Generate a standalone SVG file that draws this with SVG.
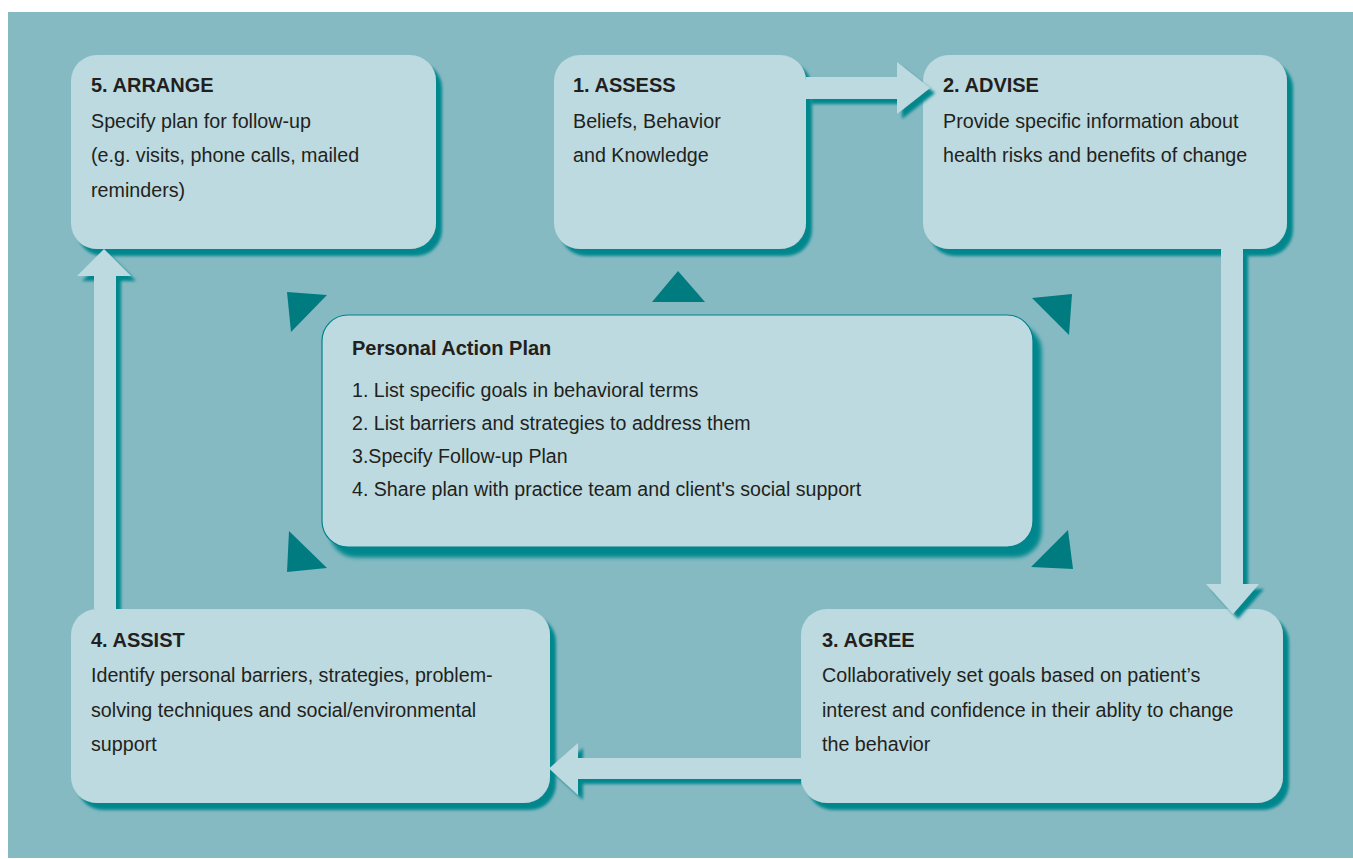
<svg xmlns="http://www.w3.org/2000/svg" width="1353" height="859" viewBox="0 0 1353 859">
  <defs>
    <style>
      .panel { fill: #86BAC3; }
      .box { fill: #BCDADF; }
      .plan { fill: #BCDADF; stroke: #00808A; stroke-width: 1.2; }
      .arrow { fill: #BCDADF; }
      .tri { fill: #007B80; }
      text { font-family: "Liberation Sans", Arial, sans-serif; fill: #231F20; }
      .title { font-size: 20px; font-weight: bold; }
      .body { font-size: 19.7px; }
      .list { font-size: 19.6px; }
    </style>
    <filter id="boxShadow" x="-10%" y="-10%" width="125%" height="130%">
      <feDropShadow dx="6" dy="7" stdDeviation="1.4" flood-color="#00878D" flood-opacity="1"/>
    </filter>
    <filter id="planShadow" x="-10%" y="-10%" width="125%" height="130%">
      <feDropShadow dx="8" dy="10" stdDeviation="2.2" flood-color="#00878D" flood-opacity="1"/>
    </filter>
    <filter id="arrowShadow" x="-20%" y="-20%" width="150%" height="150%">
      <feDropShadow dx="5" dy="5" stdDeviation="1.4" flood-color="#00878D" flood-opacity="1"/>
    </filter>
    <clipPath id="clipLeftOfAgree">
      <rect x="0" y="0" width="801" height="859"/>
    </clipPath>
    <clipPath id="clipAboveAssist">
      <rect x="0" y="0" width="1353" height="609"/>
    </clipPath>
  </defs>

  <!-- backdrop panel -->
  <rect class="panel" x="8" y="12" width="1345" height="846"/>

  <!-- central plan with its corner markers -->
  <g id="plan">
    <polygon class="tri" points="287,292 327,295 291,332"/>
    <polygon class="tri" points="678,271 705,302 652,302"/>
    <polygon class="tri" points="1032,298 1072,294 1069,335"/>
    <polygon class="tri" points="289,531 327,568 287,572"/>
    <polygon class="tri" points="1068,530 1073,569 1031,567"/>
    <rect class="plan" x="322" y="315" width="711" height="232" rx="26" ry="26" filter="url(#planShadow)"/>
    <text class="title" x="352" y="355">Personal Action Plan</text>
    <text class="list" x="352" y="397">1. List specific goals in behavioral terms</text>
    <text class="list" x="352" y="430">2. List barriers and strategies to address them</text>
    <text class="list" x="352" y="463">3.Specify Follow-up Plan</text>
    <text class="list" x="352" y="496">4. Share plan with practice team and client's social support</text>
  </g>

  <g id="arrange">
    <rect class="box" x="71" y="55" width="365" height="194" rx="26" ry="26" filter="url(#boxShadow)"/>
    <text class="title" x="91" y="92">5. ARRANGE</text>
    <text class="body" x="91" y="128">Specify plan for follow-up</text>
    <text class="body" x="91" y="162">(e.g. visits, phone calls, mailed</text>
    <text class="body" x="91" y="197">reminders)</text>
  </g>

  <g id="assess">
    <rect class="box" x="554" y="55" width="252" height="194" rx="26" ry="26" filter="url(#boxShadow)"/>
    <text class="title" x="573" y="92">1. ASSESS</text>
    <text class="body" x="573" y="128">Beliefs, Behavior</text>
    <text class="body" x="573" y="162">and Knowledge</text>
  </g>

  <g id="advise">
    <rect class="box" x="923" y="55" width="364" height="194" rx="26" ry="26" filter="url(#boxShadow)"/>
    <text class="title" x="943" y="92">2. ADVISE</text>
    <text class="body" x="943" y="128">Provide specific information about</text>
    <text class="body" x="943" y="162">health risks and benefits of change</text>
  </g>

  <g id="agree">
    <rect class="box" x="801" y="609" width="482" height="194" rx="26" ry="26" filter="url(#boxShadow)"/>
    <text class="title" x="822" y="647">3. AGREE</text>
    <text class="body" x="822" y="682">Collaboratively set goals based on patient’s</text>
    <text class="body" x="822" y="717">interest and confidence in their ablity to change</text>
    <text class="body" x="822" y="751">the behavior</text>
  </g>

  <g id="assist">
    <rect class="box" x="71" y="609" width="479" height="194" rx="26" ry="26" filter="url(#boxShadow)"/>
    <text class="title" x="91" y="647">4. ASSIST</text>
    <text class="body" x="91" y="682">Identify personal barriers, strategies, problem-</text>
    <text class="body" x="91" y="717">solving techniques and social/environmental</text>
    <text class="body" x="91" y="751">support</text>
  </g>

  <!-- cycle connectors: assess → advise → agree → assist → arrange -->
  <g id="connectors">
    <polygon class="arrow" filter="url(#arrowShadow)" points="806,77 897,77 897,62 930,88 897,114 897,99 806,99"/>
    <polygon class="arrow" filter="url(#arrowShadow)" points="1221,249 1243,249 1243,584 1259,584 1233,614 1206,584 1221,584"/>
    <g clip-path="url(#clipLeftOfAgree)">
      <polygon class="arrow" filter="url(#arrowShadow)" points="806,758 578,758 578,743 549,768.5 578,795 578,779 806,779"/>
    </g>
    <g clip-path="url(#clipAboveAssist)">
      <polygon class="arrow" filter="url(#arrowShadow)" points="94,614 94,276 77,276 104,249 131,276 116,276 116,614"/>
    </g>
  </g>
</svg>
